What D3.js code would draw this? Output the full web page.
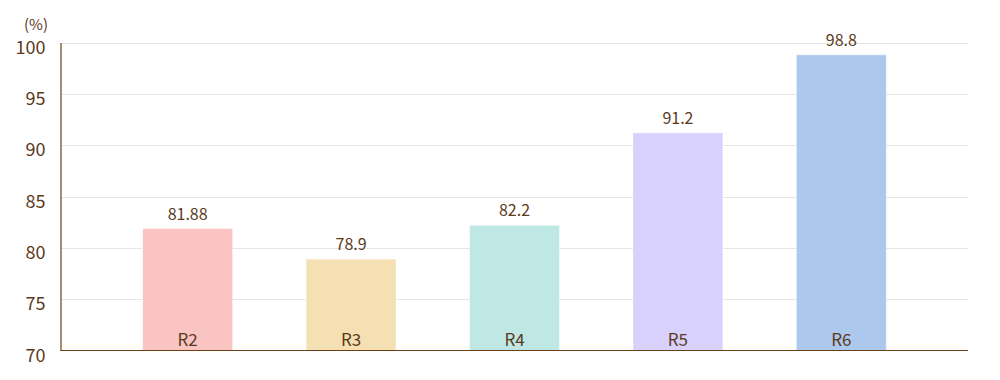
<!DOCTYPE html>
<html>
<head>
<meta charset="utf-8">
<script src="https://cdn.jsdelivr.net/npm/d3@7"></script>
<style>
  body { margin: 0; background: #fff; }
  text { font-family: "Noto Sans CJK JP", "Noto Sans", sans-serif; fill: #5b3a1c; }
</style>
</head>
<body>
<svg id="chart" width="1000" height="380"></svg>
<script>
const categories = ["R2", "R3", "R4", "R5", "R6"];
const values = [81.88, 78.9, 82.2, 91.2, 98.8];
const valueLabels = ["81.88", "78.9", "82.2", "91.2", "98.8"];
const yTicks = [70, 75, 80, 85, 90, 95, 100];
const colors = ["#f9c4c1", "#f5e0b3", "#bfe8e5", "#d9d1fd", "#adc8ed"];

const plotLeft = 61, plotRight = 968, plotTop = 42.5, plotBottom = 350.5;
const svg = d3.select("#chart");

const x = d3.scaleBand()
    .domain(categories)
    .range([plotLeft, plotRight])
    .paddingInner(0.45)
    .paddingOuter(0.5);

const y = d3.scaleLinear()
    .domain([70, 100])
    .range([plotBottom, plotTop]);

// grid
svg.append("g")
    .selectAll("line")
    .data(yTicks.slice(1))
    .join("line")
    .attr("x1", plotLeft)
    .attr("x2", plotRight)
    .attr("y1", d => Math.round(y(d)) + 0.5)
    .attr("y2", d => Math.round(y(d)) + 0.5)
    .attr("stroke", "#e6e6e6");

// bars
svg.append("g")
    .selectAll("rect")
    .data(values)
    .join("rect")
    .attr("x", (d, i) => x(categories[i]))
    .attr("y", d => y(d))
    .attr("width", x.bandwidth())
    .attr("height", d => plotBottom - y(d))
    .attr("fill", (d, i) => colors[i])
    .attr("stroke", "#ffffff")
    .attr("stroke-opacity", 0.4);

// value labels
svg.append("g")
    .selectAll("text")
    .data(values)
    .join("text")
    .attr("x", (d, i) => x(categories[i]) + x.bandwidth() / 2)
    .attr("y", d => y(d) - 9)
    .attr("text-anchor", "middle")
    .attr("font-size", 16)
    .text((d, i) => valueLabels[i]);

// category labels inside bars
svg.append("g")
    .selectAll("text")
    .data(categories)
    .join("text")
    .attr("x", d => x(d) + x.bandwidth() / 2)
    .attr("y", plotBottom - 5)
    .attr("text-anchor", "middle")
    .attr("font-size", 17)
    .text(d => d);

// y axis
const yAxis = svg.append("g")
    .attr("transform", `translate(${plotLeft - 0.5},0)`)
    .call(d3.axisLeft(y).tickValues(yTicks).tickSize(0).tickPadding(15));
yAxis.select(".domain").attr("stroke", "#6b3f14").attr("stroke-width", 1.2);
yAxis.selectAll("text")
    .attr("font-size", 18)
    .attr("dy", "0.6em")
    .attr("fill", "#5b3a1c")
    .style("font-family", "\"Noto Sans CJK JP\", \"Noto Sans\", sans-serif");

// x baseline
svg.append("line")
    .attr("x1", plotLeft - 0.5)
    .attr("x2", plotRight)
    .attr("y1", plotBottom)
    .attr("y2", plotBottom)
    .attr("stroke", "#6b3f14")
    .attr("stroke-width", 1.2);

svg.append("text")
    .attr("x", 36)
    .attr("y", 30)
    .attr("text-anchor", "middle")
    .attr("font-size", 15)
    .text("(%)");
</script>
</body>
</html>
